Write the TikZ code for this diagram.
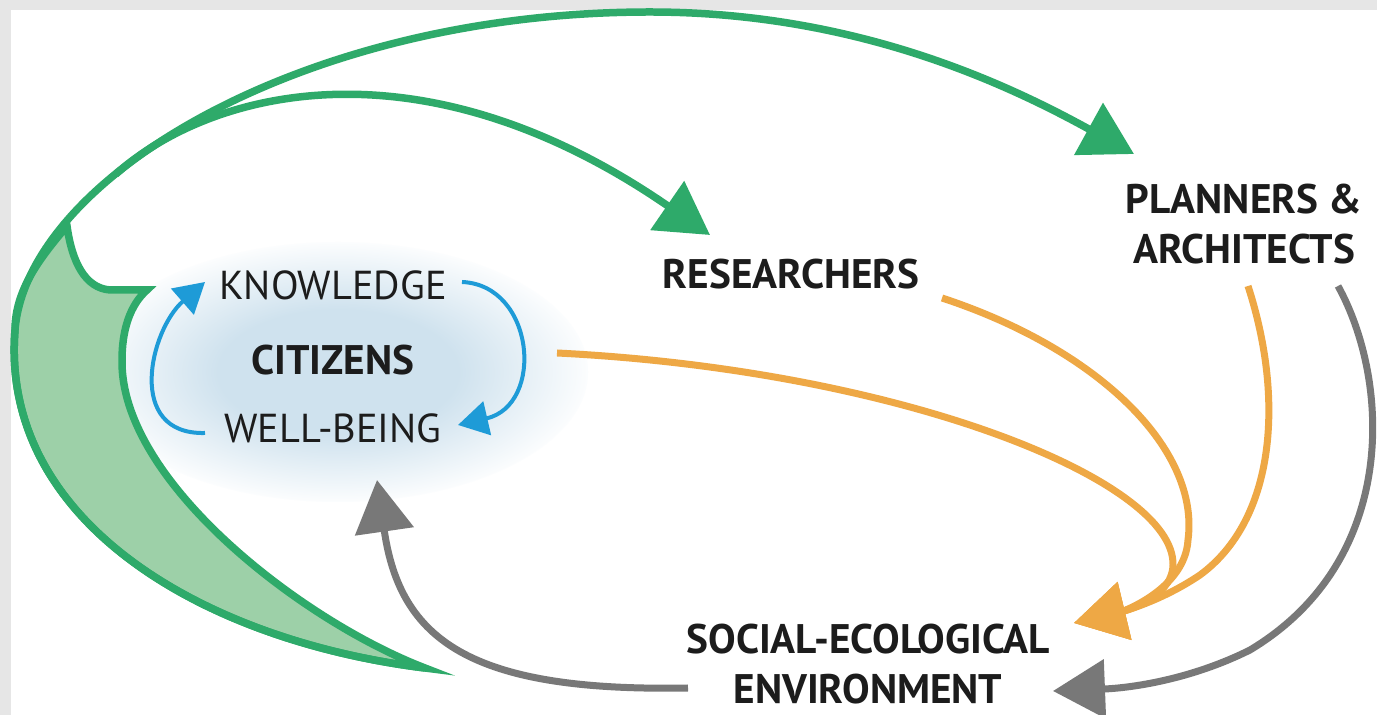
\documentclass[tikz,border=0pt]{standalone}
\usepackage{fontspec}
\setmainfont{PT Sans}
\usetikzlibrary{arrows.meta}
\definecolor{leafgreen}{HTML}{2EAA6A}
\definecolor{leaffill}{HTML}{9DD0A8}
\definecolor{amber}{HTML}{EEA845}
\definecolor{slate}{HTML}{787878}
\definecolor{skyblue}{HTML}{1E9BD7}
\definecolor{glowblue}{HTML}{CFE2EE}
\definecolor{framegray}{HTML}{E6E6E6}
\definecolor{ink}{HTML}{1C1C1C}
\pgfdeclareradialshading{glow}{\pgfpoint{0bp}{0bp}}{color(0bp)=(glowblue); color(12bp)=(glowblue); color(26bp)=(white); color(50bp)=(white)}
\tikzstyle{boldtxt} = [font=\fontsize{23.5}{28.5}\selectfont\bfseries, text=ink, inner sep=0pt]
\tikzstyle{thintxt} = [font=\fontsize{23}{27}\selectfont, text=ink, inner sep=0pt]
\tikzstyle{greenline} = [draw=leafgreen, line width=0.15cm]
\tikzstyle{amberline} = [draw=amber, line width=0.14cm]
\tikzstyle{slateline} = [draw=slate, line width=0.14cm]
\tikzstyle{blueline} = [draw=skyblue, line width=0.08cm, -{Triangle[length=0.6cm, width=0.68cm]}]
\tikzstyle{bigtip} = [-{Triangle[length=1.04cm, width=1.16cm]}]

\begin{document}
\begin{tikzpicture}[x=0.02cm, y=-0.02cm]

\useasboundingbox (0,0) rectangle (1377,715);
\fill[framegray] (0,0) rectangle (1377,715);
\fill[white] (11,10) rectangle (1377,715);
\shade[shading=glow] (338,372) ellipse (250 and 130);

\coordinate (swtip) at (425,668);
\coordinate (notch) at (147,290);
\coordinate (split) at (116,174);
\coordinate (tipPA) at (1134,154);
\coordinate (tipRes) at (710,235);
\coordinate (o1) at (557,353);
\coordinate (o2) at (942,298);
\coordinate (o3) at (1248,286);
\coordinate (tipEnv) at (1074,623);
\coordinate (g1) at (688,688);
\coordinate (tipCit) at (377,480);
\coordinate (g2) at (1338,286);
\coordinate (tipEnv2) at (1053,691);
\coordinate (b1) at (205,433);
\coordinate (tipK) at (205,282);
\coordinate (b2) at (462,282);
\coordinate (tipW) at (458,425);

\filldraw[greenline, fill=leaffill, line join=miter]
  (swtip) .. controls (300,620) and (120,480) .. (122,360)
  .. controls (122,330) and (130,305) .. (notch)
  -- (110,290) .. controls (85,288) and (72,262) .. (67,226)
  .. controls (40,258) and (15,290) .. (15,330)
  .. controls (0,520) and (200,640) .. (swtip) -- cycle;

\draw[greenline, bigtip] (swtip) .. controls (200,640) and (0,520) .. (15,330)
  .. controls (27,180) and (300,12) .. (650,12)
  .. controls (850,12) and (1000,80) .. (tipPA);
\draw[greenline, bigtip] (split) .. controls (210,90) and (420,35) .. (tipRes);

\draw[amberline, bigtip] (o1) .. controls (900,370) and (1175,480) .. (1173,565)
  .. controls (1172,600) and (1120,612) .. (tipEnv);
\draw[amberline, bigtip] (o2) .. controls (1100,350) and (1200,450) .. (1188,540)
  .. controls (1185,590) and (1120,612) .. (tipEnv);
\draw[amberline, bigtip] (o3) .. controls (1285,400) and (1275,520) .. (1200,575)
  .. controls (1160,602) and (1120,612) .. (tipEnv);

\draw[slateline, bigtip] (g1) .. controls (470,692) and (400,640) .. (tipCit);
\draw[slateline, bigtip] (g2) .. controls (1390,380) and (1400,560) .. (1250,650)
  .. controls (1190,680) and (1130,688) .. (tipEnv2);

\draw[blueline] (b1) .. controls (125,435) and (150,330) .. (tipK);
\draw[blueline] (b2) .. controls (535,285) and (545,405) .. (tipW);

\node[thintxt] (knowledge) at (333,285) {KNOWLEDGE};
\node[boldtxt] (citizens) at (333,360) {CITIZENS};
\node[thintxt] (wellbeing) at (333,428) {WELL-BEING};
\node[boldtxt] (researchers) at (791,274) {RESEARCHERS};
\node[boldtxt, align=center] (planners) at (1244,224) {PLANNERS \&\\ARCHITECTS};
\node[boldtxt, align=center] (environment) at (868,664) {SOCIAL-ECOLOGICAL\\ENVIRONMENT};

\end{tikzpicture}
\end{document}
